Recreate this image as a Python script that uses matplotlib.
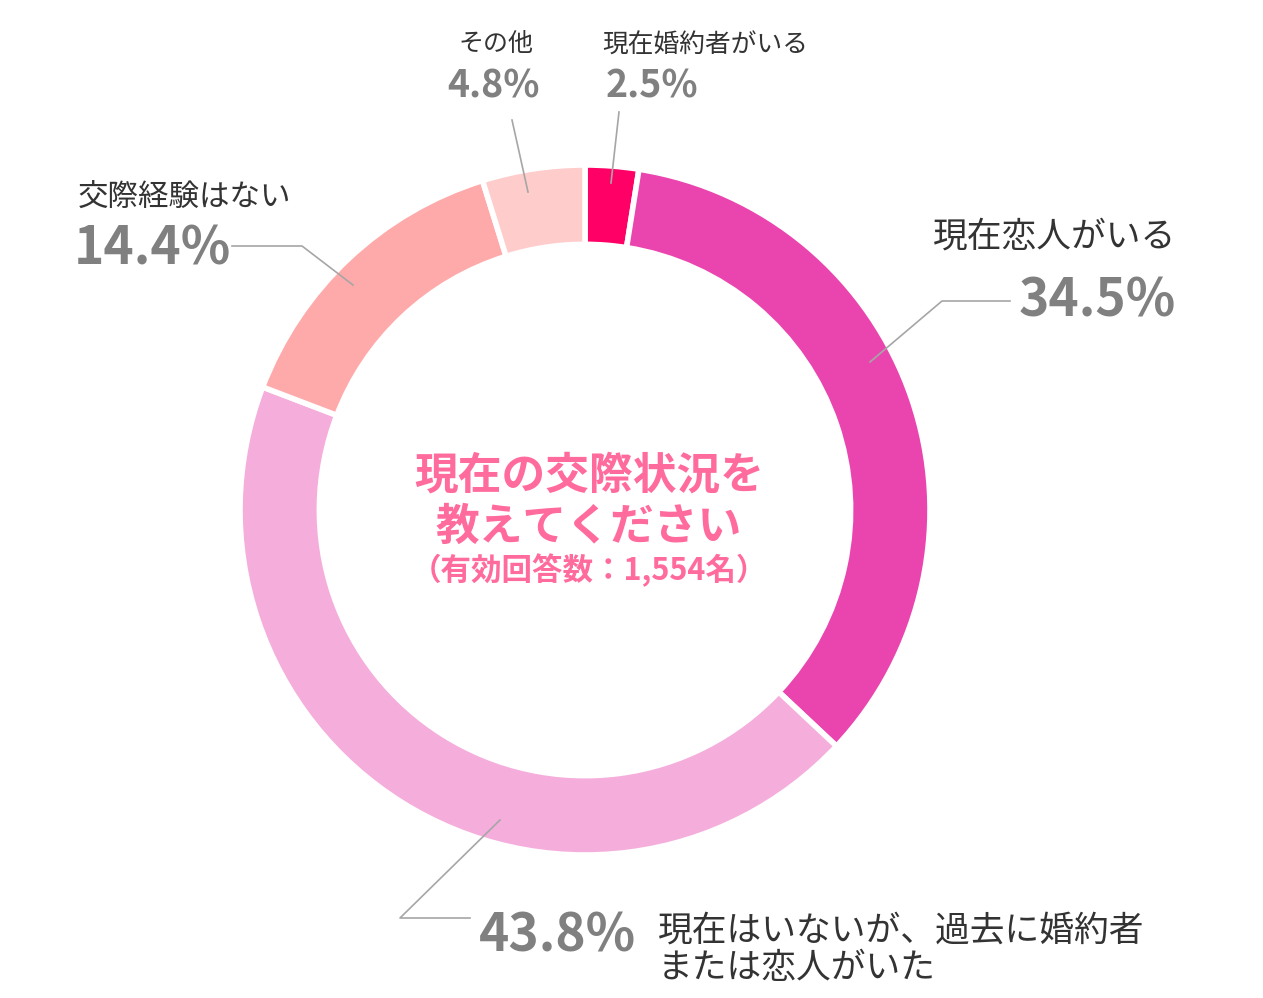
import matplotlib.pyplot as plt

plt.rcParams['font.family'] = ['Noto Sans CJK JP', 'DejaVu Sans']

# survey answers, clockwise from the top
labels = ['現在婚約者がいる', '現在恋人がいる', '現在はいないが、過去に婚約者\nまたは恋人がいた',
          '交際経験はない', 'その他']
values = [2.5, 34.5, 43.8, 14.4, 4.8]
colors = ['#FF0066', '#EA45AF', '#F5AEDC', '#FFAAAA', '#FFCCCC']
center_title = '現在の交際状況を\n教えてください'
center_note = '（有効回答数：1,554名）'

W, H = 1263, 998
fig = plt.figure(figsize=(W / 100, H / 100), dpi=100)
ax = fig.add_axes([0, 0, 1, 1])
ax.set_xlim(0, W)
ax.set_ylim(0, H)
ax.set_aspect('equal')
ax.axis('off')

def Y(py):
    # pixel row -> data y
    return H - py

cx, cy, r = 585, Y(510), 345
ax.pie(values, colors=colors, startangle=90, counterclock=False,
       center=(cx, cy), radius=r, frame=True,
       wedgeprops=dict(width=r * 0.23, edgecolor='white', linewidth=4))
ax.set_xlim(0, W)
ax.set_ylim(0, H)
ax.axis('off')

line_kw = dict(color='#A6A6A6', lw=1.2)
pct_kw = dict(color='#808080', fontweight='bold')
lab_kw = dict(color='#333333')

# leader lines
ax.plot([512, 528], [Y(120), Y(192)], **line_kw)
ax.plot([619, 611], [Y(112), Y(183)], **line_kw)
ax.plot([232, 302, 353], [Y(246), Y(246), Y(285)], **line_kw)
ax.plot([1010, 942, 870], [Y(301), Y(301), Y(362)], **line_kw)
ax.plot([470, 400, 500], [Y(918), Y(918), Y(820)], **line_kw)

# その他
ax.text(496, Y(44), labels[4], fontsize=18, ha='center', va='center', **lab_kw)
ax.text(493, Y(86), f'{values[4]}%', fontsize=27, ha='center', va='center', **pct_kw)
# 現在婚約者がいる
ax.text(602, Y(46), labels[0], fontsize=18.5, ha='left', va='center', **lab_kw)
ax.text(606, Y(86), f'{values[0]}%', fontsize=27, ha='left', va='center', **pct_kw)
# 交際経験はない
ax.text(78, Y(197), labels[3], fontsize=22, ha='left', va='center', **lab_kw)
ax.text(74, Y(249), f'{values[3]}%', fontsize=37, ha='left', va='center', **pct_kw)
# 現在恋人がいる
ax.text(1176, Y(237), labels[1], fontsize=25, ha='right', va='center', **lab_kw)
ax.text(1176, Y(301), f'{values[1]}%', fontsize=37, ha='right', va='center', **pct_kw)
# 現在はいないが…
ax.text(636, Y(936), f'{values[2]}%', fontsize=37, ha='right', va='center', **pct_kw)
ax.text(658, Y(950), labels[2], fontsize=25, ha='left', va='center',
        linespacing=1.1, **lab_kw)

# center text
ax.text(cx + 4, Y(501), center_title, fontsize=31.5, ha='center', va='center',
        color='#FF6B9C', fontweight='bold', linespacing=1.2)
ax.text(cx + 4, Y(570), center_note, fontsize=22, ha='center', va='center',
        color='#FF6B9C', fontweight='bold')

fig.savefig('out.png', dpi=100, facecolor='white')
